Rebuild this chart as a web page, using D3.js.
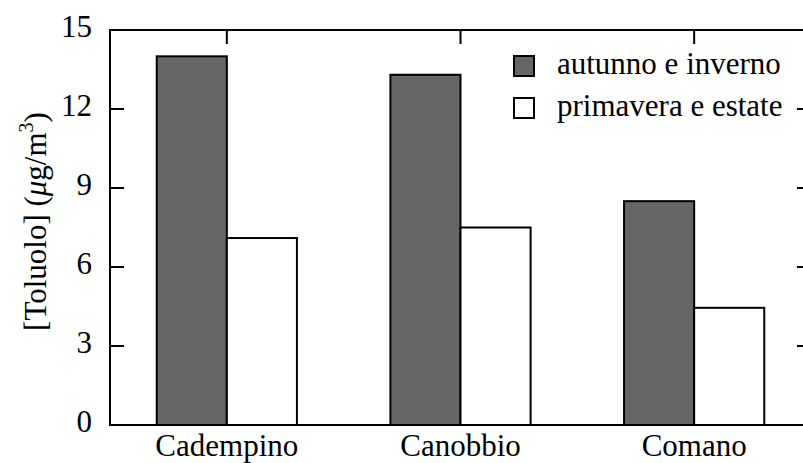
<!DOCTYPE html>
<html>
<head>
<meta charset="utf-8">
<script src="https://cdn.jsdelivr.net/npm/d3@7"></script>
<style>
  html, body { margin: 0; padding: 0; background: #fff; }
  svg { display: block; overflow: hidden; }
</style>
</head>
<body>
<svg id="chart" width="803" height="463"></svg>
<script>
// Toluene concentration by site and season
const sites = ["Cadempino", "Canobbio", "Comano"];
const seriesNames = ["autunno e inverno", "primavera e estate"];
const autunnoInverno = [14.0, 13.3, 8.5];
const primaveraEstate = [7.1, 7.5, 4.45];
const yTicks = [0, 3, 6, 9, 12, 15];
const seriesFill = ["#666666", "#ffffff"];

const series = [autunnoInverno, primaveraEstate];
const rows = sites.map((s, i) => ({ site: s, values: series.map(v => v[i]) }));

const svg = d3.select("#chart");
const plotL = 110, plotR = 811, plotT = 30, plotB = 425;
const fontSize = 31;
const tickLen = 14;
const serif = "'Liberation Serif', 'Times New Roman', serif";

const x = d3.scaleBand().domain(sites).range([plotL, plotR])
  .paddingInner(0.4).paddingOuter(0.2);
const xs = d3.scaleBand().domain(d3.range(seriesNames.length)).range([0, x.bandwidth()]).padding(0);
const y = d3.scaleLinear().domain([0, 15]).range([plotB, plotT]);

const g = svg.append("g").style("font-family", serif).attr("fill", "#000");

// mirrored inward ticks
const ticks = g.append("g").attr("stroke", "#000").attr("stroke-width", 2);
yTicks.forEach(t => {
  ticks.append("line").attr("x1", plotL).attr("x2", plotL + tickLen).attr("y1", y(t)).attr("y2", y(t));
  ticks.append("line").attr("x1", plotR).attr("x2", plotR - tickLen).attr("y1", y(t)).attr("y2", y(t));
});
sites.forEach(s => {
  const cx = x(s) + x.bandwidth() / 2;
  ticks.append("line").attr("x1", cx).attr("x2", cx).attr("y1", plotT).attr("y2", plotT + tickLen);
  ticks.append("line").attr("x1", cx).attr("x2", cx).attr("y1", plotB).attr("y2", plotB - tickLen);
});

// bars
const groups = g.selectAll("g.site").data(rows).join("g")
  .attr("class", "site")
  .attr("transform", d => `translate(${x(d.site)},0)`);
groups.selectAll("rect").data(d => d.values.map((v, k) => ({ v, k }))).join("rect")
  .attr("x", d => xs(d.k))
  .attr("width", xs.bandwidth())
  .attr("y", d => y(d.v))
  .attr("height", d => y(0) - y(d.v))
  .attr("fill", d => seriesFill[d.k])
  .attr("stroke", "#000")
  .attr("stroke-width", 2);

// frame
g.append("rect")
  .attr("x", plotL).attr("y", plotT)
  .attr("width", plotR - plotL).attr("height", plotB - plotT)
  .attr("fill", "none").attr("stroke", "#000").attr("stroke-width", 2);

// y tick labels
g.append("g").selectAll("text").data(yTicks).join("text")
  .attr("x", plotL - 18)
  .attr("y", d => y(d) + 7)
  .attr("text-anchor", "end")
  .attr("font-size", fontSize)
  .text(d => d);

// x category labels
g.append("g").selectAll("text").data(sites).join("text")
  .attr("x", d => x(d) + x.bandwidth() / 2)
  .attr("y", 456)
  .attr("text-anchor", "middle")
  .attr("font-size", fontSize)
  .text(d => d);

// y axis title
const yl = g.append("text")
  .attr("transform", `translate(46,${(plotT + plotB) / 2 - 6}) rotate(-90)`)
  .attr("text-anchor", "middle")
  .attr("font-size", fontSize);
yl.append("tspan").text("[Toluolo] (");
yl.append("tspan").attr("font-style", "italic").text("μ");
yl.append("tspan").text("g/m");
yl.append("tspan").attr("font-size", 20).attr("dy", -13).text("3");
yl.append("tspan").attr("dy", 13).text(")");

// legend
const legend = g.append("g").attr("transform", "translate(513,55)");
seriesNames.forEach((name, k) => {
  const row = legend.append("g").attr("transform", `translate(0,${k * 42})`);
  row.append("rect").attr("x", 1).attr("y", 1).attr("width", 20).attr("height", 20)
    .attr("fill", seriesFill[k]).attr("stroke", "#000").attr("stroke-width", 2);
  row.append("text").attr("x", 44).attr("y", 19).attr("font-size", fontSize).text(name);
});
</script>
</body>
</html>
